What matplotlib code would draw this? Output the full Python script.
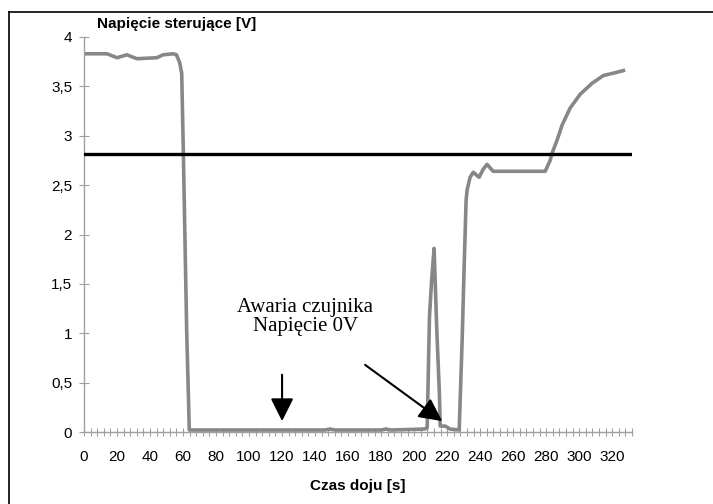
import matplotlib.pyplot as plt
from matplotlib.lines import Line2D
from matplotlib.ticker import MultipleLocator, FuncFormatter

# Data
czas = [0, 14, 20, 26, 32, 44, 48, 54, 56, 58, 59.2, 60.2, 62.2, 63.8, 100, 146, 149, 152,
        180, 183, 186, 206, 207.9, 209.3, 210.7, 212.1, 212.7, 213.8, 215.3, 215.8, 218.8,
        221.8, 227.3, 229.1, 230.3, 231.5, 232.1, 233.9, 235.8, 239.4, 241.8, 244.2, 247.9,
        276.4, 279.4, 282.4, 283.5, 286.7, 289.7, 294.5, 300.6, 307.7, 314.7, 319.8, 326.8]
napiecie = [3.83, 3.83, 3.79, 3.82, 3.78, 3.79, 3.82, 3.83, 3.82, 3.74, 3.63, 2.82, 1.03, 0.02,
            0.02, 0.02, 0.03, 0.02, 0.02, 0.03, 0.02, 0.03, 0.04, 1.17, 1.56, 1.86, 1.56, 1.0,
            0.4, 0.06, 0.06, 0.03, 0.02, 0.93, 1.67, 2.35, 2.45, 2.58, 2.63, 2.58, 2.66, 2.71,
            2.64, 2.64, 2.64, 2.75, 2.82, 2.96, 3.11, 3.28, 3.42, 3.53, 3.61, 3.63, 3.66]
prog = 2.82

plt.rcParams['font.family'] = ['Liberation Sans', 'DejaVu Sans']

fig = plt.figure(figsize=(7.13, 5.04), dpi=100)
ax = fig.add_axes([84 / 713, 72 / 504, 548 / 713, 395 / 504])

ax.plot(czas, napiecie, color='#878787', lw=2.6, solid_joinstyle='round', zorder=2)
ax.axhline(prog, color='black', lw=2.4, zorder=3)

ax.set_xlim(0, 332)
ax.set_ylim(0, 4)
ax.xaxis.set_major_locator(MultipleLocator(20))
ax.xaxis.set_minor_locator(MultipleLocator(4))
ax.yaxis.set_major_locator(MultipleLocator(0.5))
ax.yaxis.set_major_formatter(FuncFormatter(lambda v, p: f'{v:g}'.replace('.', ',')))

for s in ['top', 'right']:
    ax.spines[s].set_visible(False)
for s in ['left', 'bottom']:
    ax.spines[s].set_color('#a0a0a0')
    ax.spines[s].set_linewidth(1.0)
ax.tick_params(axis='both', which='both', direction='inout', color='#a0a0a0',
               length=6, width=0.8, labelsize=11)
ax.tick_params(axis='x', which='major', pad=10)
ax.tick_params(axis='y', which='major', pad=5, length=7)

fig.text(97 / 713, 1 - 24 / 504, 'Napięcie sterujące [V]', fontsize=11,
         fontweight='bold', ha='left', va='center')
fig.text(358 / 713, 1 - 486 / 504, 'Czas doju [s]', fontsize=11,
         fontweight='bold', ha='center', va='center')

# annotation
ax.text(134, 1.16, 'Awaria czujnika\nNapięcie 0V', family='Liberation Serif',
        fontsize=15, ha='center', va='center', linespacing=1.0)
strz = dict(arrowstyle='-|>,head_length=1.4,head_width=0.7', mutation_scale=10,
            color='black', lw=1.5, shrinkA=0, shrinkB=0)
ax.annotate('', xy=(120, 0.11), xytext=(120, 0.58), arrowprops=strz)
ax.annotate('', xy=(217, 0.11), xytext=(170.3, 0.68), arrowprops=strz)

# outer frame (top and left edges visible)
fig.add_artist(Line2D([9 / 713, 1], [1 - 12 / 504, 1 - 12 / 504], color='black', lw=1.2))
fig.add_artist(Line2D([9 / 713, 9 / 713], [0, 1 - 12 / 504], color='black', lw=1.2))

fig.savefig('out.png', dpi=100)
